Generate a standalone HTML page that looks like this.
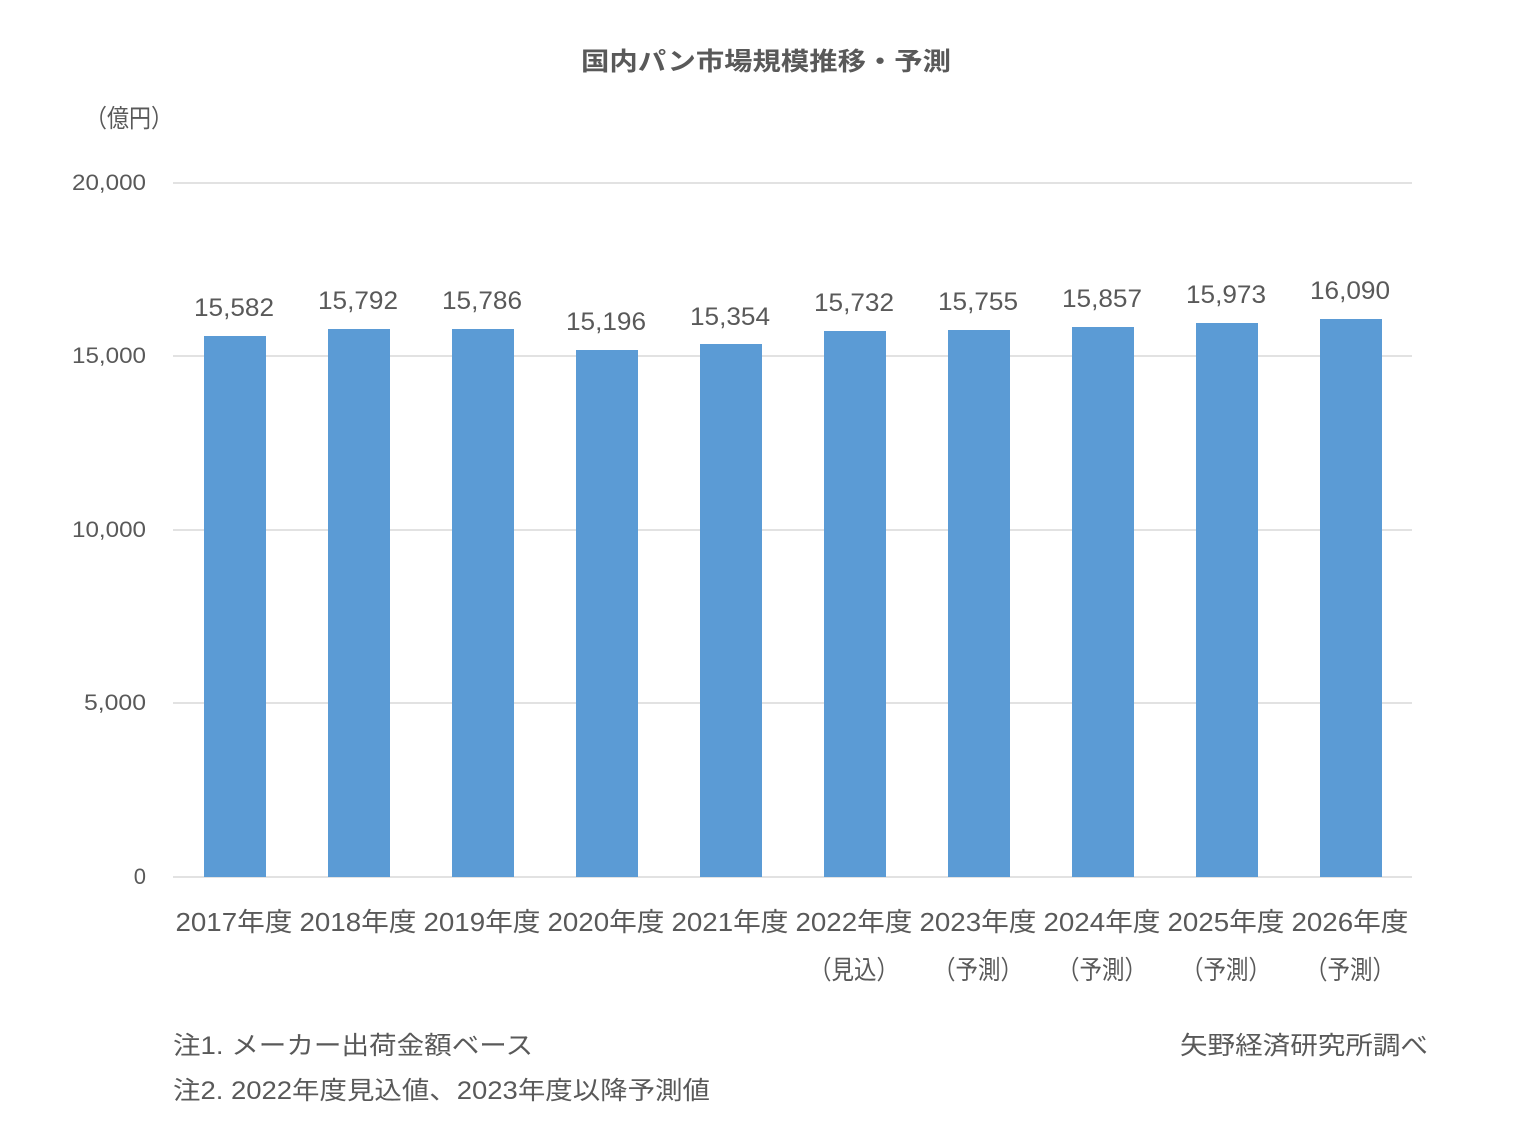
<!DOCTYPE html>
<html><head><meta charset="utf-8"><style>
body{margin:0;background:#fff;}
svg text{font-family:"Liberation Sans","Noto Sans CJK JP",sans-serif;fill:#595959;}
</style></head><body>
<svg width="1536" height="1124" xmlns="http://www.w3.org/2000/svg">
<text x="766" y="70" font-size="25" font-weight="bold" text-anchor="middle" fill="#404040" textLength="370" lengthAdjust="spacingAndGlyphs">国内パン市場規模推移・予測</text>
<text x="85" y="127" font-size="25" textLength="88" lengthAdjust="spacingAndGlyphs">（億円）</text>
<g stroke="#d9d9d9" stroke-width="1.5">
<line x1="173" y1="183" x2="1412" y2="183"/>
<line x1="173" y1="356" x2="1412" y2="356"/>
<line x1="173" y1="530" x2="1412" y2="530"/>
<line x1="173" y1="703" x2="1412" y2="703"/>
<line x1="173" y1="877" x2="1412" y2="877"/>
</g>
<g font-size="22" text-anchor="end">
<text x="146" y="190" textLength="74" lengthAdjust="spacingAndGlyphs">20,000</text>
<text x="146" y="363" textLength="74" lengthAdjust="spacingAndGlyphs">15,000</text>
<text x="146" y="537" textLength="74" lengthAdjust="spacingAndGlyphs">10,000</text>
<text x="146" y="710" textLength="62" lengthAdjust="spacingAndGlyphs">5,000</text>
<text x="146" y="884">0</text>
</g>
<g fill="#5b9bd5">
<rect x="204" y="336" width="62" height="541"/>
<rect x="328" y="329" width="62" height="548"/>
<rect x="452" y="329" width="62" height="548"/>
<rect x="576" y="350" width="62" height="527"/>
<rect x="700" y="344" width="62" height="533"/>
<rect x="824" y="331" width="62" height="546"/>
<rect x="948" y="330" width="62" height="547"/>
<rect x="1072" y="327" width="62" height="550"/>
<rect x="1196" y="323" width="62" height="554"/>
<rect x="1320" y="319" width="62" height="558"/>
</g>
<g font-size="25" text-anchor="middle">
<text x="234" y="316" textLength="80" lengthAdjust="spacingAndGlyphs">15,582</text>
<text x="358" y="309" textLength="80" lengthAdjust="spacingAndGlyphs">15,792</text>
<text x="482" y="309" textLength="80" lengthAdjust="spacingAndGlyphs">15,786</text>
<text x="606" y="330" textLength="80" lengthAdjust="spacingAndGlyphs">15,196</text>
<text x="730" y="325" textLength="80" lengthAdjust="spacingAndGlyphs">15,354</text>
<text x="854" y="311" textLength="80" lengthAdjust="spacingAndGlyphs">15,732</text>
<text x="978" y="310" textLength="80" lengthAdjust="spacingAndGlyphs">15,755</text>
<text x="1102" y="307" textLength="80" lengthAdjust="spacingAndGlyphs">15,857</text>
<text x="1226" y="303" textLength="80" lengthAdjust="spacingAndGlyphs">15,973</text>
<text x="1350" y="299" textLength="80" lengthAdjust="spacingAndGlyphs">16,090</text>
</g>
<g font-size="26" text-anchor="middle">
<text x="234" y="931" textLength="117" lengthAdjust="spacingAndGlyphs">2017年度</text>
<text x="358" y="931" textLength="117" lengthAdjust="spacingAndGlyphs">2018年度</text>
<text x="482" y="931" textLength="117" lengthAdjust="spacingAndGlyphs">2019年度</text>
<text x="606" y="931" textLength="117" lengthAdjust="spacingAndGlyphs">2020年度</text>
<text x="730" y="931" textLength="117" lengthAdjust="spacingAndGlyphs">2021年度</text>
<text x="854" y="931" textLength="117" lengthAdjust="spacingAndGlyphs">2022年度</text>
<text x="978" y="931" textLength="117" lengthAdjust="spacingAndGlyphs">2023年度</text>
<text x="1102" y="931" textLength="117" lengthAdjust="spacingAndGlyphs">2024年度</text>
<text x="1226" y="931" textLength="117" lengthAdjust="spacingAndGlyphs">2025年度</text>
<text x="1350" y="931" textLength="117" lengthAdjust="spacingAndGlyphs">2026年度</text>
<text x="854" y="979" textLength="90" lengthAdjust="spacingAndGlyphs">（見込）</text>
<text x="978" y="979" textLength="90" lengthAdjust="spacingAndGlyphs">（予測）</text>
<text x="1102" y="979" textLength="90" lengthAdjust="spacingAndGlyphs">（予測）</text>
<text x="1226" y="979" textLength="90" lengthAdjust="spacingAndGlyphs">（予測）</text>
<text x="1350" y="979" textLength="90" lengthAdjust="spacingAndGlyphs">（予測）</text>
</g>
<g font-size="25">
<text x="173" y="1054" textLength="360" lengthAdjust="spacingAndGlyphs">注1. メーカー出荷金額ベース</text>
<text x="173" y="1099" textLength="537" lengthAdjust="spacingAndGlyphs">注2. 2022年度見込値、2023年度以降予測値</text>
<text x="1180" y="1054" textLength="248" lengthAdjust="spacingAndGlyphs">矢野経済研究所調べ</text>
</g>
</svg>
</body></html>
